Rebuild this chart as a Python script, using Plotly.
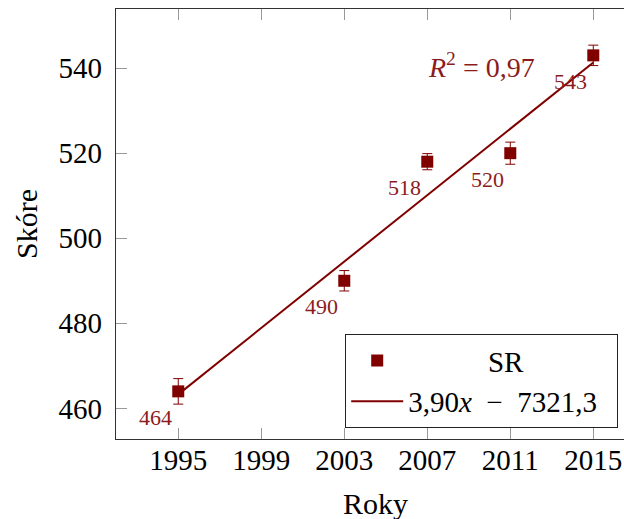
import numpy as np
import plotly.graph_objects as go

# Scores of SR by year, with standard errors
years = [1995, 2003, 2007, 2011, 2015]
scores = [464, 490, 518, 520, 543]
errors = [3.0, 2.4, 1.9, 2.6, 2.4]
x_ticks = [1995, 1999, 2003, 2007, 2011, 2015]
y_ticks = [460, 480, 500, 520, 540]
series_name = "SR"
fit_label = "3,90<i>x</i>\u00a0\u00a0−\u00a0\u00a07321,3"

DARK_RED = "#800000"
LABEL_RED = "#8c1c1c"
SERIF = "'Liberation Serif', 'Times New Roman', serif"
NBSP = "\u00a0"

# Least-squares trend line and coefficient of determination
slope, intercept = np.polyfit(years, scores, 1)
pred = np.polyval([slope, intercept], years)
ss_res = np.sum((np.array(scores) - pred) ** 2)
ss_tot = np.sum((np.array(scores) - np.mean(scores)) ** 2)
r2 = 1 - ss_res / ss_tot
fit_x = [min(years), max(years)]
fit_y = list(np.polyval([slope, intercept], fit_x))

fig = go.Figure()

fig.add_trace(go.Scatter(
    x=years, y=scores, mode="markers",
    name=NBSP * 11 + series_name,
    marker=dict(symbol="square", size=12, color=DARK_RED, line=dict(width=0)),
    error_y=dict(type="data", array=errors, visible=True,
                 color=DARK_RED, thickness=1, width=5),
))

fig.add_trace(go.Scatter(
    x=fit_x, y=fit_y, mode="lines", name=fit_label + NBSP * 2,
    line=dict(color=DARK_RED, width=2),
))

annotations = []
# Value labels below-left of each point
for xv, yv in zip(years, scores):
    annotations.append(dict(
        x=xv, y=yv, xref="x", yref="y", text=str(yv), showarrow=False,
        xshift=-23, yshift=-26, font=dict(family=SERIF, size=22, color=LABEL_RED),
    ))

# R^2 note
annotations.append(dict(
    x=2009.6, y=540.5, xref="x", yref="y",
    text=f"<i>R</i><sup>2</sup> = {r2:.2f}".replace(".", ","), showarrow=False,
    font=dict(family=SERIF, size=28, color=LABEL_RED),
))

# Axis titles
annotations.append(dict(
    x=2004.5, y=0, xref="x", yref="paper", yshift=-64, yanchor="middle",
    text="Roky", showarrow=False, font=dict(family=SERIF, size=30, color="black"),
))
annotations.append(dict(
    x=0, y=0.5, xref="paper", yref="paper", xshift=-90, xanchor="center",
    yanchor="middle", textangle=-90,
    text="Skóre", showarrow=False, font=dict(family=SERIF, size=30, color="black"),
))

axis_common = dict(
    showgrid=False, zeroline=False,
    showline=True, linecolor="#333333", linewidth=1.3,
    ticks="inside", ticklen=11, tickwidth=1, tickcolor="#9a9a9a",
    tickfont=dict(family=SERIF, size=29, color="black"),
)

fig.update_layout(
    width=624, height=519,
    margin=dict(l=116, r=0, t=9, b=80),
    plot_bgcolor="white", paper_bgcolor="white",
    font=dict(family=SERIF),
    xaxis=dict(range=[1992, 2016.48], tickvals=x_ticks, mirror="allticks",
               ticklabelstandoff=-5, **axis_common),
    yaxis=dict(range=[452.8, 553.9], tickvals=y_ticks, ticklabelstandoff=7,
               **axis_common),
    showlegend=True,
    legend=dict(
        x=0.988, y=0.026, xanchor="right", yanchor="bottom",
        bgcolor="white", bordercolor="#222222", borderwidth=1.3,
        font=dict(family=SERIF, size=29, color="black"),
        tracegroupgap=0, itemwidth=52,
    ),
    annotations=annotations,
)

fig.write_html("out.html")
